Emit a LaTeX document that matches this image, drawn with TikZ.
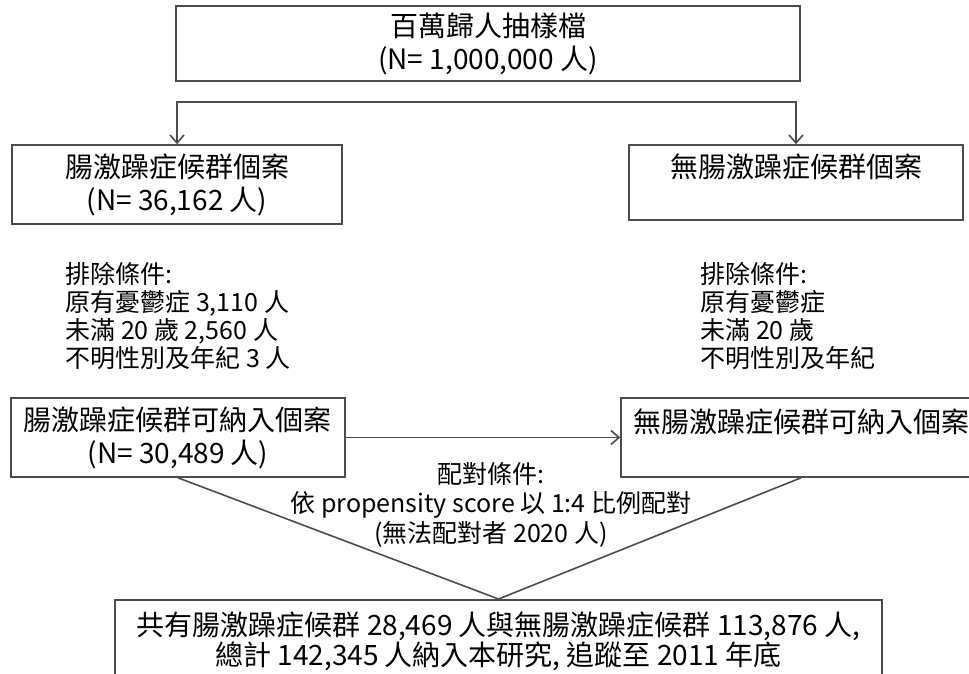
\documentclass[tikz,border=0pt]{standalone}
\usepackage{fontspec}
\setmainfont{Noto Sans CJK TC}
\usetikzlibrary{arrows.meta}

\begin{document}
\begin{tikzpicture}[x=0.5pt, y=-0.5pt, >={Straight Barb[length=4pt,width=7pt]},
  box/.style={shape=rectangle, draw=black!70, line width=0.8pt, align=center, inner sep=0pt, font=\fontsize{14}{16.5}\selectfont},
  note/.style={align=left, inner sep=0pt, font=\fontsize{12.5}{14}\selectfont},
  link/.style={draw=black!70, line width=0.8pt}]
\useasboundingbox (0,0) rectangle (969,674);
\node[box, minimum width=312pt, minimum height=37.5pt] (src) at (488,43.5) {百萬歸人抽樣檔\\(N= 1,000,000 人)};
\coordinate (split) at (488,102);
\node[box, minimum width=165pt, minimum height=39.5pt] (ibs) at (177,184.5) {腸激躁症候群個案\\(N= 36,162 人)};
\node[box, minimum width=167pt, minimum height=37.5pt] (nonibs) at (796,182.5) {無腸激躁症候群個案\\~};
\node[note, anchor=north west] (exl) at (65,262) {排除條件:\\原有憂鬱症 3,110 人\\未滿 20 歲 2,560 人\\不明性別及年紀 3 人};
\node[note, anchor=north west] (exr) at (700,262) {排除條件:\\原有憂鬱症\\未滿 20 歲\\不明性別及年紀};
\node[box, minimum width=167pt, minimum height=39.5pt] (ibsok) at (178,437.5) {腸激躁症候群可納入個案\\(N= 30,489 人)};
\node[box, minimum width=180pt, minimum height=39.5pt] (nonibsok) at (801,437.5) {無腸激躁症候群可納入個案\\~};
\node[note, align=center, anchor=north, font=\fontsize{12.5}{14.75}\selectfont] (match) at (491,462) {配對條件:\\依 propensity score 以 1:4 比例配對\\(無法配對者 2020 人)};
\node[box, minimum width=383.5pt, inner ysep=6pt, anchor=north, font=\fontsize{14}{15}\selectfont] (total) at (498.5,599) {共有腸激躁症候群 28,469 人與無腸激躁症候群 113,876 人,\\總計 142,345 人納入本研究, 追蹤至 2011 年底};
\draw[link, <->] (ibs.north) |- (split) -| (nonibs.north);
\draw[link, ->] (ibsok) -- (nonibsok);
\draw[link] (ibsok.south) -- (total.north) -- (nonibsok.south);
\end{tikzpicture}
\end{document}
